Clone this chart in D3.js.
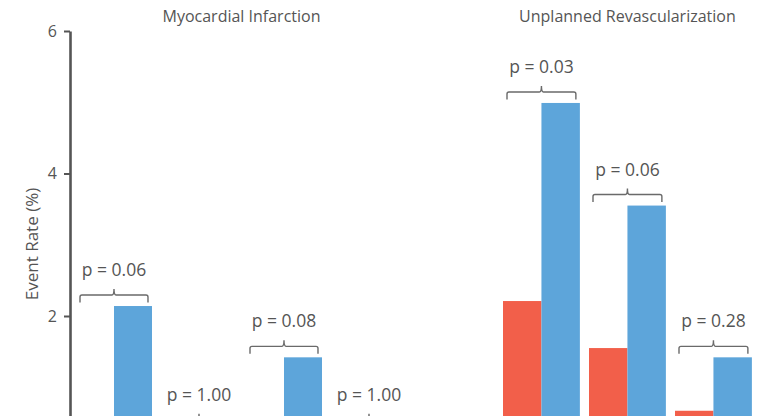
<!DOCTYPE html>
<html>
<head>
<meta charset="utf-8">
<script src="https://cdn.jsdelivr.net/npm/d3@7"></script>
<style>
  html, body { margin: 0; padding: 0; background: #fff; overflow: hidden; }
  svg { display: block; }
  text { font-family: "Open Sans", "Noto Sans", sans-serif; fill: #555; }
</style>
</head>
<body>
<script>
// Event rates (%) per subgroup, two arms per subgroup
const panels = ["Myocardial Infarction", "Unplanned Revascularization"];
const miGroups = ["G1", "G2", "G3", "G4"];
const miRed = [0.5, 0.39, 0.3, 0.39];
const miBlue = [2.14, 0.39, 1.42, 0.39];
const miP = ["p = 0.06", "p = 1.00", "p = 0.08", "p = 1.00"];
const urGroups = ["G1", "G2", "G3"];
const urRed = [2.21, 1.55, 0.67];
const urBlue = [4.99, 3.55, 1.42];
const urP = ["p = 0.03", "p = 0.06", "p = 0.28"];
const yTicks = [2, 4, 6];

const W = 757, H = 416;
const RED = "#f25f4a", BLUE = "#5da5da";

const svg = d3.select("body").append("svg").attr("width", W).attr("height", H)
  .style("overflow", "hidden");

const y = d3.scaleLinear().domain([0, 6]).range([458.5, 31]);

// y axis
const yAxis = svg.append("g")
  .attr("transform", "translate(70,0)")
  .call(d3.axisLeft(y).tickValues(yTicks).tickFormat(d3.format("d"))
    .tickSize(6).tickSizeOuter(0).tickPadding(7));
yAxis.select(".domain").attr("stroke", "#555").attr("stroke-width", 2.6);
yAxis.selectAll(".tick line").attr("stroke", "#555").attr("stroke-width", 2);
yAxis.selectAll(".tick text").style("font-size", "16px").attr("fill", "#555")
  .style("font-family", "'Open Sans', sans-serif");

svg.append("text")
  .attr("transform", "translate(38,244) rotate(-90)")
  .attr("text-anchor", "middle")
  .style("font-size", "17px")
  .text("Event Rate (%)");

function drawPanel(title, groups, red, blue, pvals, r0, step) {
  const pad = 0.106;
  const x = d3.scaleBand().domain(groups)
    .range([r0, r0 + step * (groups.length - pad)])
    .paddingInner(pad).paddingOuter(0);
  const inner = d3.scaleBand().domain(["red", "blue"]).range([0, x.bandwidth()]);
  const g = svg.append("g");

  svg.append("text")
    .attr("x", (x.range()[0] + x.range()[1]) / 2)
    .attr("y", 22)
    .attr("text-anchor", "middle")
    .style("font-size", "16px")
    .attr("fill", "#4f4f58")
    .text(title);

  const rows = groups.map((k, i) => ({ k, red: red[i], blue: blue[i], p: pvals[i] }));

  const grp = g.selectAll("g.grp").data(rows).join("g")
    .attr("class", "grp")
    .attr("transform", d => `translate(${x(d.k)},0)`);

  grp.append("rect")
    .attr("x", inner("red")).attr("width", inner.bandwidth())
    .attr("y", d => y(d.red)).attr("height", d => y(0) - y(d.red))
    .attr("fill", RED);
  grp.append("rect")
    .attr("x", inner("blue")).attr("width", inner.bandwidth())
    .attr("y", d => y(d.blue)).attr("height", d => y(0) - y(d.blue))
    .attr("fill", BLUE);

  // curly bracket above each pair
  const bw = x.bandwidth();
  grp.append("path")
    .attr("fill", "none")
    .attr("stroke", "#6a6a6a")
    .attr("stroke-width", 1.4)
    .attr("d", d => {
      const top = y(Math.max(d.red, d.blue));
      const x0 = 4, x1 = bw - 4, xm = bw / 2;
      const h = top - 11, e = top - 3.5, pk = top - 17;
      return `M${x0},${e} L${x0},${h + 2} Q${x0},${h} ${x0 + 2},${h}` +
        ` L${xm - 2},${h} Q${xm},${h} ${xm},${pk}` +
        ` Q${xm},${h} ${xm + 2},${h} L${x1 - 2},${h} Q${x1},${h} ${x1},${h + 2} L${x1},${e}`;
    });

  grp.append("text")
    .attr("x", bw / 2)
    .attr("y", d => y(Math.max(d.red, d.blue)) - 30)
    .attr("text-anchor", "middle")
    .style("font-size", "17.5px")
    .text(d => d.p);
}

drawPanel(panels[0], miGroups, miRed, miBlue, miP, 76, 85);
drawPanel(panels[1], urGroups, urRed, urBlue, urP, 503, 86);
</script>
</body>
</html>
